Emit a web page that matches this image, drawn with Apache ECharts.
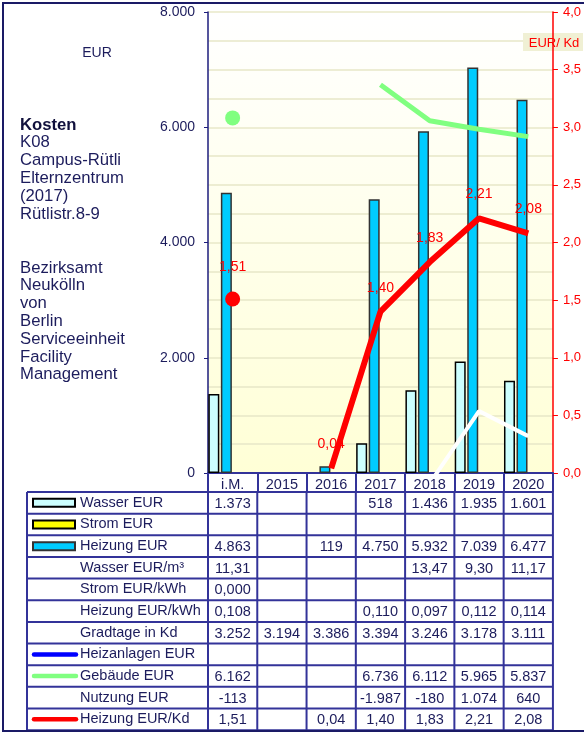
<!DOCTYPE html>
<html>
<head>
<meta charset="UTF-8">
<title>Kosten K08</title>
<script src="https://cdn.jsdelivr.net/npm/echarts/dist/echarts.min.js"></script>
<style>
  html, body { margin: 0; padding: 0; background: #fff; }
  #main { width: 584px; height: 733px; }
</style>
</head>
<body>
<div id="main"></div>
<script>
// values
var categories = ['i.M.', '2015', '2016', '2017', '2018', '2019', '2020'];
var wasserEur = [1373, null, null, 518, 1436, 1935, 1601];
var stromEur = [null, null, null, null, null, null, null];
var heizungEur = [4863, null, 119, 4750, 5932, 7039, 6477];
var wasserEurM3 = [11.31, null, null, null, 13.47, 9.30, 11.17];
var stromEurKwh = [0.000, null, null, null, null, null, null];
var heizungEurKwh = [0.108, null, null, 0.110, 0.097, 0.112, 0.114];
var gradtage = [3252, 3194, 3386, 3394, 3246, 3178, 3111];
var heizanlagenEur = [null, null, null, null, null, null, null];
var gebaeudeEur = [6162, null, null, 6736, 6112, 5965, 5837];
var nutzungEur = [-113, null, null, -1987, -180, 1074, 640];
var heizungEurKd = [1.51, null, 0.04, 1.40, 1.83, 2.21, 2.08];

var FONT = 'Arial, "Liberation Sans", sans-serif';
var NAVY = '#333399';
var TEXT = '#1c1c5c';

function fmtInt(v) {
  if (v == null) return '';
  var s = String(Math.abs(Math.round(v))).replace(/\B(?=(\d{3})+(?!\d))/g, '.');
  return (v < 0 ? '-' : '') + s;
}
function fmtDec(d) {
  return function (v) {
    if (v == null) return '';
    return v.toFixed(d).replace('.', ',');
  };
}

// only the first point (i.M.) gets a dot
function firstDot(val, params) {
  return params.dataIndex === 0 ? 15 : 0;
}

var chart = echarts.init(document.getElementById('main'));

chart.setOption({
  animation: false,
  grid: {
    left: 208, right: 28, top: 12, bottom: 260,
    show: true, borderWidth: 0,
    backgroundColor: new echarts.graphic.LinearGradient(0, 0, 0, 1, [
      { offset: 0, color: '#ffffff' },
      { offset: 1, color: '#ffffd6' }
    ])
  },
  xAxis: {
    type: 'category',
    data: categories,
    axisLine: { lineStyle: { color: NAVY, width: 2 } },
    axisTick: { show: true, length: 19, interval: 0, lineStyle: { color: NAVY, width: 2 } },
    axisLabel: { color: TEXT, fontSize: 14.5, fontFamily: FONT, margin: 4, interval: 0 }
  },
  yAxis: [{
    type: 'value',
    min: 0, max: 8000, interval: 2000,
    axisLine: { show: true, lineStyle: { color: '#1c1c7c', width: 1.5 } },
    axisTick: { show: true, length: 4, lineStyle: { color: '#1c1c7c' } },
    axisLabel: { color: TEXT, fontSize: 14, fontFamily: FONT, margin: 13, formatter: fmtInt },
    splitLine: { show: true, lineStyle: { color: '#e8e8c8', width: 1.5 } },
    minorTick: { show: false, splitNumber: 4 },
    minorSplitLine: { show: true, lineStyle: { color: '#e8e8c8', width: 1.5 } }
  }, {
    type: 'value',
    position: 'right',
    min: 0, max: 4, interval: 0.5,
    axisLine: { show: true, lineStyle: { color: '#ff0000', width: 1.5 } },
    axisTick: { show: true, length: 5, lineStyle: { color: '#ff0000' } },
    axisLabel: { color: '#ff0000', fontSize: 13, fontFamily: FONT, margin: 10, formatter: fmtDec(1) },
    splitLine: { show: false }
  }],
  series: [
    {
      name: 'Wasser EUR', type: 'bar', data: wasserEur, barWidth: 11, barGap: '14%',
      itemStyle: { color: '#ccffff', borderColor: '#000000', borderWidth: 1.5 }
    },
    {
      name: 'Heizung EUR', type: 'bar', data: heizungEur, barWidth: 11, barGap: '14%',
      itemStyle: { color: '#00ccff', borderColor: '#333333', borderWidth: 1.5 }
    },
    {
      name: 'Strom EUR', type: 'bar', data: stromEur, barWidth: 11, barGap: '14%',
      itemStyle: { color: '#ffff00', borderColor: '#000000', borderWidth: 1.5 }
    },
    {
      name: 'frei', type: 'bar', data: [], barWidth: 11, barGap: '14%'
    },
    {
      name: 'Heizanlagen EUR', type: 'line', data: heizanlagenEur,
      lineStyle: { color: '#0000ff', width: 4 }, itemStyle: { color: '#0000ff' }, symbolSize: 0
    },
    {
      name: 'Gebäude EUR', type: 'line', data: gebaeudeEur,
      lineStyle: { color: '#80ff80', width: 5 }, itemStyle: { color: '#80ff80' },
      symbol: 'circle', symbolSize: firstDot, showSymbol: true
    },
    {
      name: 'Nutzung EUR', type: 'line', data: nutzungEur,
      lineStyle: { color: '#ffffff', width: 4 }, itemStyle: { color: '#ffffff' },
      symbolSize: 0
    },
    {
      name: 'Heizung EUR/Kd', type: 'line', yAxisIndex: 1, data: heizungEurKd,
      lineStyle: { color: '#ff0000', width: 6 }, itemStyle: { color: '#ff0000' },
      symbol: 'circle', symbolSize: firstDot, showSymbol: true,
      label: {
        show: true, position: 'top', distance: 17, color: '#ff0000',
        fontSize: 14, fontFamily: FONT,
        formatter: function (p) { return fmtDec(2)(p.value); }
      }
    }
  ]
});

// table under the chart, columns follow the category axis
var rows = [
  { name: 'Wasser EUR', values: wasserEur, fmt: fmtInt, box: '#ccffff', edge: '#000000' },
  { name: 'Strom EUR', values: stromEur, fmt: fmtInt, box: '#ffff00', edge: '#000000' },
  { name: 'Heizung EUR', values: heizungEur, fmt: fmtInt, box: '#00ccff', edge: '#333333' },
  { name: 'Wasser EUR/m³', values: wasserEurM3, fmt: fmtDec(2) },
  { name: 'Strom EUR/kWh', values: stromEurKwh, fmt: fmtDec(3) },
  { name: 'Heizung EUR/kWh', values: heizungEurKwh, fmt: fmtDec(3) },
  { name: 'Gradtage in Kd', values: gradtage, fmt: fmtInt },
  { name: 'Heizanlagen EUR', values: heizanlagenEur, fmt: fmtInt, line: '#0000ff' },
  { name: 'Gebäude EUR', values: gebaeudeEur, fmt: fmtInt, line: '#80ff80' },
  { name: 'Nutzung EUR', values: nutzungEur, fmt: fmtInt, line: '#ffffff' },
  { name: 'Heizung EUR/Kd', values: heizungEurKd, fmt: fmtDec(2), line: '#ff0000' }
];

var centers = categories.map(function (c) {
  return chart.convertToPixel({ xAxisIndex: 0 }, c);
});
var band = centers[1] - centers[0];
var edges = centers.map(function (c) { return c - band / 2; });
edges.push(centers[centers.length - 1] + band / 2);

var tableLeft = 27, tableTop = 492, rowH = 21.65;
var tableBottom = tableTop + rows.length * rowH;
var g = [];

rows.forEach(function (r, i) {
  var yc = tableTop + i * rowH + rowH / 2;
  if (r.box) {
    g.push({ type: 'rect', shape: { x: 33, y: yc - 4, width: 42, height: 8 },
      style: { fill: r.box, stroke: r.edge, lineWidth: 2 } });
  }
  if (r.line) {
    g.push({ type: 'line', shape: { x1: 34, y1: yc, x2: 76, y2: yc },
      style: { stroke: r.line, lineWidth: 4.5, lineCap: 'round' } });
  }
  g.push({ type: 'text', x: 80, y: yc,
    style: { text: r.name, fill: TEXT, font: '14.5px ' + FONT, textVerticalAlign: 'middle' } });
  r.values.forEach(function (v, j) {
    if (v == null) return;
    g.push({ type: 'text', x: centers[j], y: yc + 1,
      style: { text: r.fmt(v), fill: TEXT, font: '14.5px ' + FONT,
        textAlign: 'center', textVerticalAlign: 'middle' } });
  });
});

for (var i = 0; i <= rows.length; i++) {
  var y = tableTop + i * rowH;
  g.push({ type: 'line', shape: { x1: tableLeft, y1: y, x2: edges[edges.length - 1], y2: y },
    style: { stroke: NAVY, lineWidth: 2 } });
}
g.push({ type: 'line', shape: { x1: tableLeft, y1: tableTop, x2: tableLeft, y2: tableBottom },
  style: { stroke: NAVY, lineWidth: 2 } });
edges.forEach(function (x) {
  g.push({ type: 'line', shape: { x1: x, y1: tableTop, x2: x, y2: tableBottom },
    style: { stroke: NAVY, lineWidth: 2 } });
});

// side texts
g.push({ type: 'text', x: 97, y: 53,
  style: { text: 'EUR', fill: TEXT, font: '14px ' + FONT, textAlign: 'center', textVerticalAlign: 'middle' } });
g.push({ type: 'text', x: 20, y: 116,
  style: {
    text: '{b|Kosten}\nK08\nCampus-Rütli\nElternzentrum\n(2017)\nRütlistr.8-9',
    fill: TEXT, font: '16.7px ' + FONT, lineHeight: 17.8,
    rich: { b: { fontWeight: 'bold', fill: '#10103c', fontSize: 16.7, fontFamily: FONT, lineHeight: 17.8 } }
  } });
g.push({ type: 'text', x: 20, y: 259,
  style: {
    text: 'Bezirksamt\nNeukölln\nvon\nBerlin\nServiceeinheit\nFacility\nManagement',
    fill: TEXT, font: '16.7px ' + FONT, lineHeight: 17.8
  } });
g.push({ type: 'rect', shape: { x: 523, y: 33, width: 60, height: 18 },
  style: { fill: '#f0f0d4' } });
g.push({ type: 'text', x: 554, y: 43,
  style: { text: 'EUR/ Kd', fill: '#ff0000', font: '13px ' + FONT, textAlign: 'center', textVerticalAlign: 'middle' } });

// frame
g.push({ type: 'rect', shape: { x: 3, y: 3, width: 600, height: 728 },
  style: { fill: 'none', stroke: '#1a1a66', lineWidth: 2 }, z: 10 });

chart.setOption({ graphic: { elements: g } });
</script>
</body>
</html>
